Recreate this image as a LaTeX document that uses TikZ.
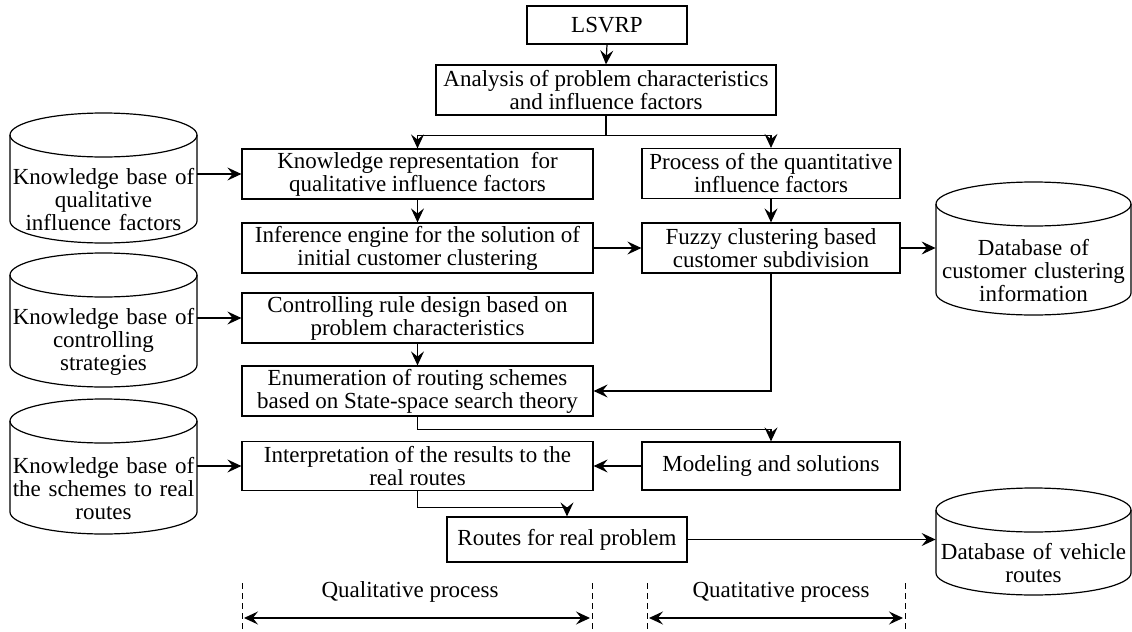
\documentclass[tikz,border=0pt]{standalone}
\usepackage{fontspec}
\setmainfont{Liberation Serif}
\usetikzlibrary{arrows.meta,calc}
\newcommand\mycyl[7]{%
  \draw[cylline] ({(#2+#3)/2},#4+22) ellipse [x radius={(#3-#2)/2}, y radius=22];
  \draw[cylline] (#2,#4+22) -- (#2,#5-22) arc[start angle=180,end angle=0,x radius={(#3-#2)/2},y radius=22] -- (#3,#4+22);
  \node[kbtext,text width=#6] (#1) at ({(#2+#3)/2},{(#4+44+#5)/2}) {#7};}
\tikzset{
  txt/.style={font=\fontsize{11.5}{11.5}\selectfont},
  box/.style={txt, draw, line width=0.6pt, inner sep=0pt, align=center, minimum height=25pt},
  kbtext/.style={txt, inner sep=0pt, align=center},
  tip/.style={},
  arr/.style={-{Stealth[length=7pt,width=6.5pt,inset=2.6pt]}, line width=0.6pt},
  dimarr/.style={{Stealth[length=7pt,width=6.5pt,inset=2.6pt]}-{Stealth[length=7pt,width=6.5pt,inset=2.6pt]}, line width=0.6pt},
  plain/.style={line width=0.6pt},
  cylline/.style={line width=0.6pt},
  dimline/.style={line width=0.5pt, dash pattern=on 3pt off 2pt}
}
\begin{document}
\begin{tikzpicture}[x=0.5pt,y=-0.5pt]
\useasboundingbox (0,0) rectangle (1132,632);
% boxes
\node[box, minimum width=80pt, minimum height=19pt] (lsvrp) at (607,25) {LSVRP};
\node[box, minimum width=170pt] (analysis) at (606,90) {Analysis of problem characteristics\\and influence factors};
\node[box, minimum width=175.5pt] (krep) at (417.5,174) {Knowledge representation~ for\\qualitative influence factors};
\node[box, minimum width=129pt] (proc) at (771,173.5) {Process of the quantitative\\influence factors};
\node[box, minimum width=175.5pt] (infer) at (417.5,248) {Inference engine for the solution of\\initial customer clustering};
\node[box, minimum width=129pt] (fuzzy) at (771,248) {Fuzzy clustering based\\customer subdivision};
\node[box, minimum width=175.5pt] (ctrl) at (417.5,318) {Controlling rule design based on\\problem characteristics};
\node[box, minimum width=175.5pt] (enum) at (417.5,391) {Enumeration of routing schemes\\based on State-space search theory};
\node[box, minimum width=175.5pt, minimum height=24.5pt] (interp) at (417.5,466) {Interpretation of the results to the\\real routes};
\node[box, minimum width=129pt, minimum height=24pt] (model) at (771,466) {Modeling and solutions};
\node[box, minimum width=120pt, minimum height=22.5pt] (routes) at (567,539.5) {Routes for real problem};
% cylinders
\mycyl{kb1}{10}{197}{113}{243}{93.5pt}{Knowledge base of\\qualitative\\influence factors}
\mycyl{kb2}{10}{197}{253}{387}{93.5pt}{Knowledge base of\\controlling\\strategies}
\mycyl{kb3}{10}{197}{399}{534}{93.5pt}{Knowledge base of\\the schemes to real\\routes}
\mycyl{db1}{936}{1131}{182}{315}{97.5pt}{Database of\\customer clustering\\information}
\mycyl{db2}{936}{1131}{488}{595}{97.5pt}{Database of vehicle\\routes}
% connectors
\draw[arr] (lsvrp.south) -- (analysis.north);
\draw[plain] (analysis.south) -- ++(0,20) coordinate (split);
\draw[arr] (split) -| (krep.north);
\draw[arr] (split) -| (proc.north);
\draw[arr] (kb1.east |- krep.west) -- (krep.west);
\draw[arr] (krep.south) -- (infer.north);
\draw[arr] (proc.south) -- (fuzzy.north);
\draw[arr] (infer.east) -- (fuzzy.west);
\draw[arr] (fuzzy.east) -- (fuzzy.east -| db1.west);
\draw[arr] (kb2.east |- ctrl.west) -- (ctrl.west);
\draw[arr] (ctrl.south) -- (enum.north);
\draw[arr] (fuzzy.south) |- (enum.east);
\draw[arr] (enum.south) -- ++(0,12.5) -| (model.north);
\draw[arr] (kb3.east |- interp.west) -- (interp.west);
\draw[arr] (model.west) -- (interp.east);
\draw[arr] (interp.south) -- ++(0,16) -| (routes.north);
\draw[arr] (routes.east) -- (routes.east -| db2.west);
% bottom dimension lines
\coordinate (d1t) at (242,583); \coordinate (d1b) at (242,632);
\coordinate (d2t) at (592,583); \coordinate (d2b) at (592,632);
\coordinate (d3t) at (647,583); \coordinate (d3b) at (647,632);
\coordinate (d4t) at (905,583); \coordinate (d4b) at (905,632);
\draw[dimline] (d1t) -- (d1b);
\draw[dimline] (d2t) -- (d2b);
\draw[dimline] (d3t) -- (d3b);
\draw[dimline] (d4t) -- (d4b);
\draw[dimarr] ($(d1t)+(2,35)$) -- ($(d2t)+(-2,35)$);
\draw[dimarr] ($(d3t)+(2,35)$) -- ($(d4t)+(-2,35)$);
\node[txt] (qual) at (410,592) {Qualitative process};
\node[txt] (quant) at (781,592) {Quatitative process};
\end{tikzpicture}
\end{document}
